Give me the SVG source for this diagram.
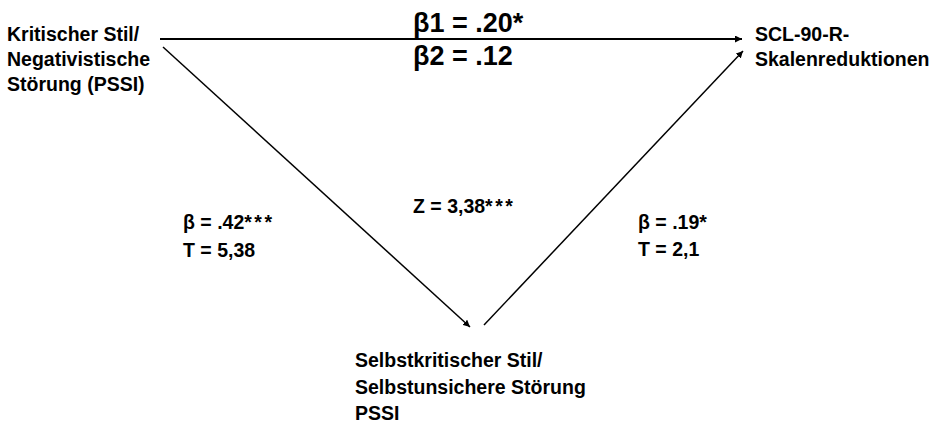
<svg xmlns="http://www.w3.org/2000/svg" width="935" height="425" viewBox="0 0 935 425">
  <style>
    .t { font-family: "Liberation Sans", Arial, sans-serif; font-weight: bold; font-size: 19.5px; fill: #000; }
    .big { font-size: 27px; }
    .ast { letter-spacing: 2.5px; }
    .c { stroke: #000; fill: none; }
  </style>
  <defs>
    <marker id="ah" viewBox="0 0 10 10" refX="10" refY="5" markerWidth="7" markerHeight="7" markerUnits="userSpaceOnUse" orient="auto">
      <path d="M0,0 L10,5 L0,10 Z" fill="#000"/>
    </marker>
  </defs>
  <rect width="935" height="425" fill="#fff"/>
  <g id="connectors">
    <line class="c" x1="160" y1="39" x2="742" y2="39" stroke-width="2" marker-end="url(#ah)"/>
    <line class="c" x1="163" y1="47" x2="470" y2="327" stroke-width="1.5" marker-end="url(#ah)"/>
    <line class="c" x1="484" y1="325" x2="743" y2="51" stroke-width="1.5" marker-end="url(#ah)"/>
  </g>
  <g id="node-kritisch">
    <text class="t" x="7" y="41">Kritischer Stil/</text>
    <text class="t" x="7" y="66">Negativistische</text>
    <text class="t" x="7" y="91">Störung (PSSI)</text>
  </g>
  <g id="node-scl">
    <text class="t" x="755" y="41">SCL-90-R-</text>
    <text class="t" x="755" y="66">Skalenreduktionen</text>
  </g>
  <g id="node-selbstkritisch">
    <text class="t" x="355" y="367">Selbstkritischer Stil/</text>
    <text class="t" x="355" y="394">Selbstunsichere Störung</text>
    <text class="t" x="355" y="420">PSSI</text>
  </g>
  <g id="labels">
    <text class="t big" x="413" y="32">β1 = .20*</text>
    <text class="t big" x="413" y="65">β2 = .12</text>
    <text class="t" x="183" y="229">β = .42<tspan class="ast">***</tspan></text>
    <text class="t" x="183" y="257">T = 5,38</text>
    <text class="t" x="413" y="213">Z = 3,38<tspan class="ast">***</tspan></text>
    <text class="t" x="638" y="229">β = .19*</text>
    <text class="t" x="638" y="256">T = 2,1</text>
  </g>
</svg>
